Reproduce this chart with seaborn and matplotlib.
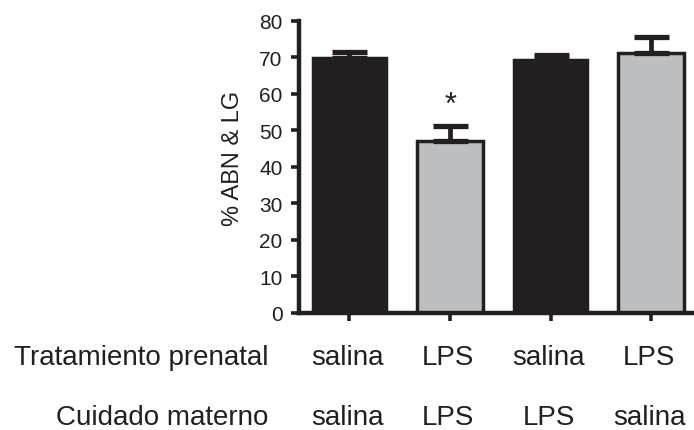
import matplotlib
matplotlib.use("Agg")
import matplotlib.pyplot as plt
import seaborn as sns
import pandas as pd

# Group values: % ABN & LG (mean and SEM)
tratamiento = ["salina", "LPS", "salina", "LPS"]
cuidado = ["salina", "LPS", "LPS", "salina"]
media = [69.8, 47.0, 69.2, 71.3]
sem = [1.6, 4.2, 1.5, 4.4]
significativo = [False, True, False, False]

grupos = [f"{t}/{c}" for t, c in zip(tratamiento, cuidado)]
df = pd.DataFrame({"grupo": grupos, "tratamiento": tratamiento,
                   "cuidado": cuidado, "media": media, "sem": sem})

INK = "#231f20"
relleno = {"salina": INK, "LPS": "#bcbec0"}
ancho = {"salina": 0.72, "LPS": 0.655}

sns.set_style("ticks")
plt.rcParams["font.family"] = ["Liberation Sans", "DejaVu Sans"]
plt.rcParams["text.color"] = INK

fig = plt.figure(figsize=(6.94, 4.31), dpi=100)
ax = fig.add_axes([0.431, 0.2726, 0.580, 0.6764])

for trat, sub in df.groupby("tratamiento"):
    sns.barplot(data=sub, x="grupo", y="media", order=grupos,
                color=relleno[trat], width=ancho[trat], edgecolor=INK,
                linewidth=2.5, saturation=1, errorbar=None, ax=ax, zorder=2)

# upward-only SEM bars
ax.errorbar(range(len(grupos)), media, yerr=[[0] * len(sem), sem],
            fmt="none", ecolor=INK, elinewidth=3.4, capsize=12.6,
            capthick=3.8, zorder=3)

for i, sig in enumerate(significativo):
    if sig:
        ax.annotate("*", xy=(i, media[i] + sem[i]), xytext=(0, 9.5),
                    textcoords="offset points", ha="center", va="baseline",
                    fontsize=22, color=INK)

ax.set_ylim(0, 80)
ax.set_xlim(-0.5, 3.5)
ax.set_yticks(range(0, 81, 10))
ax.set_xticks(range(len(grupos)))
ax.set_xticklabels([])
ax.set_xlabel("")
ax.set_ylabel("% ABN & LG", fontsize=17, color=INK)
ax.yaxis.set_label_coords(-0.138, 0.533)

for s in ("top", "right"):
    ax.spines[s].set_visible(False)
for s in ("left", "bottom"):
    ax.spines[s].set_linewidth(3.2)
    ax.spines[s].set_color(INK)
    ax.spines[s].set_capstyle("projecting")
ax.tick_params(axis="both", direction="out", length=6, width=2.6, color=INK)
ax.tick_params(axis="y", labelsize=15, labelcolor=INK, pad=6)

# two rows of group labels under the bars
xt = ax.get_xaxis_transform()
for i, (t, c) in enumerate(zip(tratamiento, cuidado)):
    ax.text(i - 0.02, -0.177, t, transform=xt, ha="center", va="baseline",
            fontsize=20, color=INK)
    ax.text(i - 0.02, -0.3825, c, transform=xt, ha="center", va="baseline",
            fontsize=20, color=INK)

fig.text(268 / 694, 1 - 365 / 431, "Tratamiento prenatal", ha="right",
         va="baseline", fontsize=20, color=INK)
fig.text(268 / 694, 1 - 425 / 431, "Cuidado materno", ha="right",
         va="baseline", fontsize=20, color=INK)

fig.savefig("out.png", dpi=100)
